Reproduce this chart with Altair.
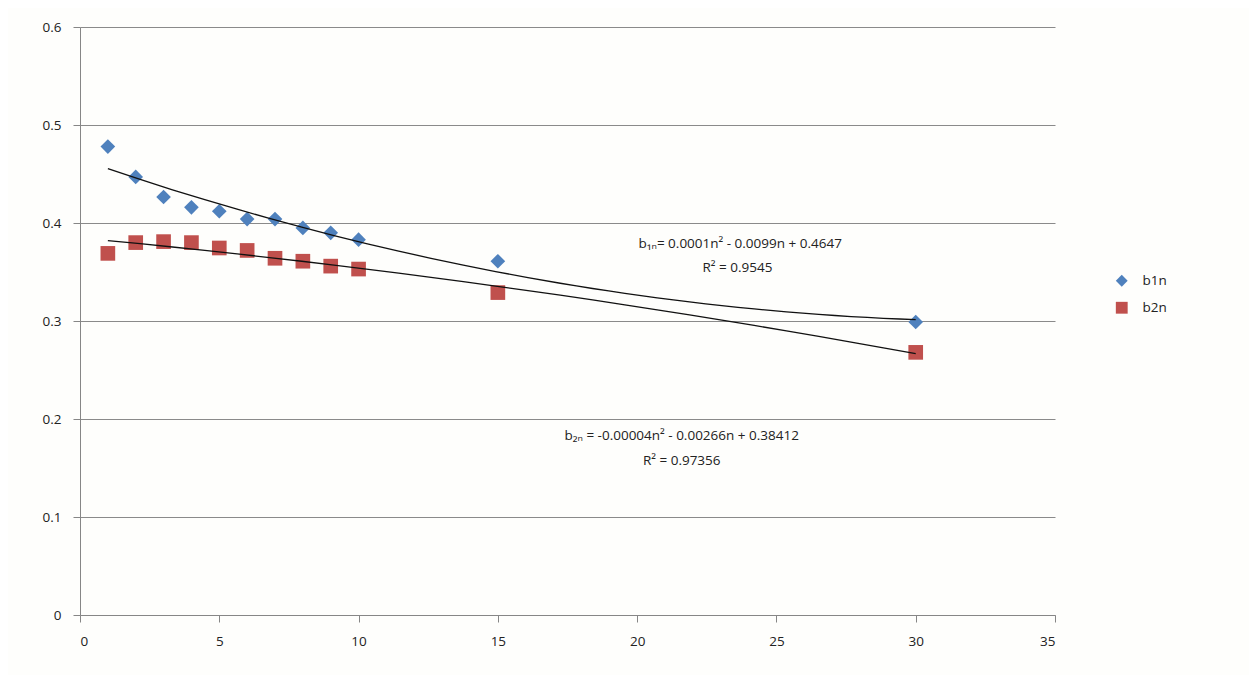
import altair as alt
import pandas as pd

n_vals = [1, 2, 3, 4, 5, 6, 7, 8, 9, 10, 15, 30]
b1n = [0.478, 0.447, 0.4265, 0.416, 0.412, 0.404, 0.404, 0.395, 0.390, 0.383, 0.361, 0.299]
b2n = [0.369, 0.380, 0.381, 0.380, 0.3745, 0.372, 0.364, 0.361, 0.356, 0.353, 0.329, 0.268]
series_names = ["b1n", "b2n"]
series_colors = ["#4F81BD", "#C0504D"]
series_shapes = ["diamond", "square"]

ann_text = ["b\u2081\u2099= 0.0001n\u00b2 - 0.0099n + 0.4647", "R\u00b2 = 0.9545",
            "b\u2082\u2099 = -0.00004n\u00b2 - 0.00266n + 0.38412", "R\u00b2 = 0.97356"]
ann_x = [23.7, 23.6, 21.6, 21.6]
ann_y = [0.3785, 0.354, 0.1825, 0.157]

rows = []
for i, n in enumerate(n_vals):
    rows.append({"n": n, "v": b1n[i], "s": "b1n"})
    rows.append({"n": n, "v": b2n[i], "s": "b2n"})
df = pd.DataFrame(rows)
ann = pd.DataFrame({"x": ann_x, "y": ann_y, "t": ann_text})

FONT = "Open Sans"
FS = 13.5
xs = alt.Scale(domain=[0, 35], nice=False)
ys = alt.Scale(domain=[0, 0.6], nice=False)
legend = alt.Legend(title=None, orient="none", legendX=1035, legendY=247,
                    labelFont=FONT, labelFontSize=FS, labelColor="#222",
                    rowPadding=12, symbolSize=140, symbolStrokeWidth=0, labelOffset=14)
color = alt.Color("s:N", scale=alt.Scale(domain=series_names, range=series_colors), legend=legend)
shape = alt.Shape("s:N", scale=alt.Scale(domain=series_names, range=series_shapes), legend=legend)

base = alt.Chart(df)
pts = base.mark_point(filled=True, opacity=1, size=215).encode(
    x=alt.X("n:Q", scale=xs, axis=alt.Axis(values=[0, 5, 10, 15, 20, 25, 30, 35], grid=False,
            title=None, tickSize=7, labelPadding=12, tickColor="#868686", domainColor="#868686",
            labelFont=FONT, labelFontSize=FS, labelColor="#222")),
    y=alt.Y("v:Q", scale=ys, axis=alt.Axis(values=[0, 0.1, 0.2, 0.3, 0.4, 0.5, 0.6], grid=True,
            gridColor="#8a8a8a", title=None, tickSize=7, labelPadding=12, tickColor="#868686",
            domainColor="#868686", labelFont=FONT, labelFontSize=FS, labelColor="#222",
            format="~g")),
    color=color, shape=shape)

trend = base.transform_regression("n", "v", groupby=["s"], method="poly", order=2,
                                  extent=[1, 30]).mark_line(color="#111", strokeWidth=1.3).encode(
    x=alt.X("n:Q", scale=xs), y=alt.Y("v:Q", scale=ys), detail="s:N")

texts = alt.Chart(ann).mark_text(font=FONT, fontSize=FS, color="#222", align="center").encode(
    x=alt.X("x:Q", scale=xs), y=alt.Y("y:Q", scale=ys), text="t:N")

chart = alt.layer(pts, trend, texts).properties(
    width=975, height=588,
    autosize=alt.AutoSizeParams(type="none"),
    padding={"left": 72, "top": 19, "right": 194, "bottom": 60},
    background="#fefefc",
).configure_view(stroke=None)

chart.save("out.html", embed_options={"renderer": "svg", "actions": False})
